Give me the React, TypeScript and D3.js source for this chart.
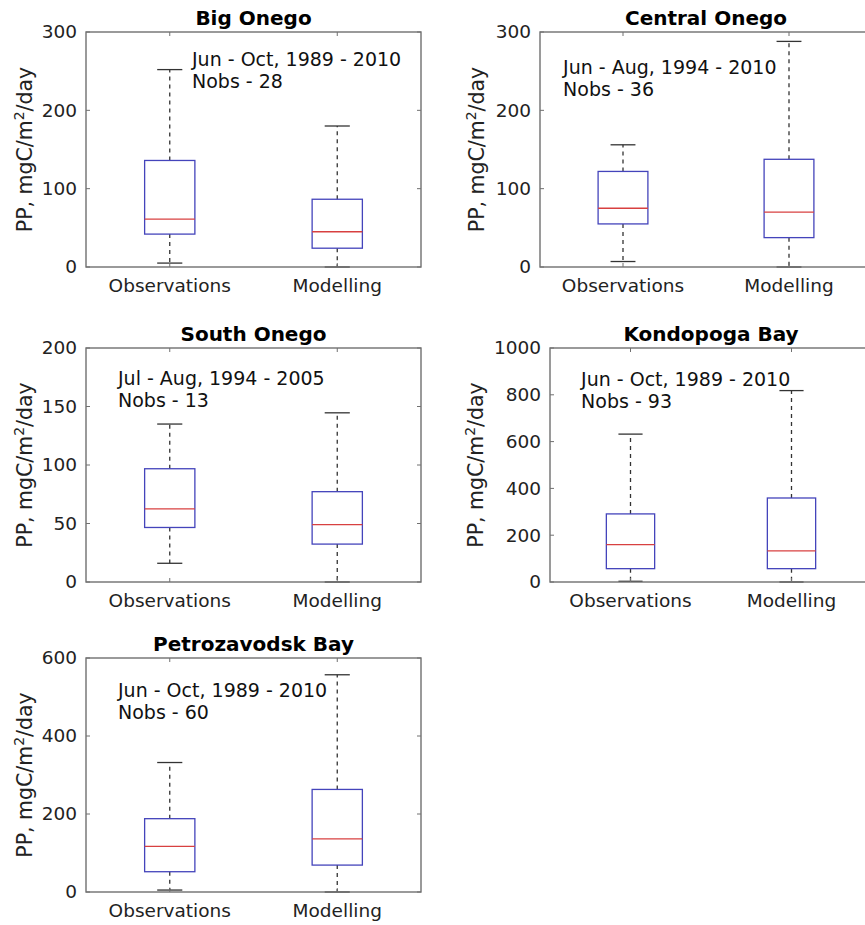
import React from "react";
import * as d3 from "d3";

// ---------- data ----------
const titles = ["Big Onego", "Central Onego", "South Onego", "Kondopoga Bay", "Petrozavodsk Bay"];
const categories = ["Observations", "Modelling"];
const yMaxes = [300, 300, 200, 1000, 600];
const yTicks = [
  [0, 100, 200, 300],
  [0, 100, 200, 300],
  [0, 50, 100, 150, 200],
  [0, 200, 400, 600, 800, 1000],
  [0, 200, 400, 600],
];
// [lower whisker, Q1, median, Q3, upper whisker]
const observations = [
  [5, 42, 61, 136, 252],
  [7, 55, 75, 122, 156],
  [16, 46.6, 62.5, 96.8, 135],
  [3, 57, 160, 291, 632],
  [5, 52, 117, 188, 332],
];
const modelling = [
  [0, 24, 45, 86.5, 180],
  [0, 37.5, 70, 137.5, 288],
  [0, 32.4, 49, 77.2, 144.6],
  [0, 57, 133, 359, 818],
  [0, 69, 136, 263, 557],
];
const periodLabels = [
  "Jun - Oct, 1989 - 2010",
  "Jun - Aug, 1994 - 2010",
  "Jul - Aug, 1994 - 2005",
  "Jun - Oct, 1989 - 2010",
  "Jun - Oct, 1989 - 2010",
];
const nobs = [28, 36, 13, 93, 60];
// annotation anchor in data units [x, y]
const noteX = [1.133, 0.639, 0.691, 0.693, 0.691];
const noteY = [256, 246, 168, 839, 501];

// ---------- layout ----------
const layout = [
  { l: 86, r: 421, t: 32, b: 267, yl: 25 },
  { l: 540, r: 872, t: 32, b: 267, yl: 477 },
  { l: 86, r: 421, t: 348, b: 582, yl: 25 },
  { l: 550, r: 872, t: 348, b: 582, yl: 476 },
  { l: 86, r: 421, t: 658, b: 892, yl: 25 },
];

const FONT = "DejaVu Sans, Verdana, sans-serif";
const AXIS = "#707070";
const TXT = "#222";
const BOXC = "#4444bb";
const MEDC = "#d84040";
const WHIS = "#333";

function Panel({ i }: { i: number }) {
  const L = layout[i];
  const x = d3.scaleLinear().domain([0.5, 2.5]).range([L.l, L.r]);
  const y = d3.scaleLinear().domain([0, yMaxes[i]]).range([L.b, L.t]);
  const series = [observations[i], modelling[i]];
  const bw = 0.3;
  const cw = 0.15;
  const tk = 4;
  const midY = (L.t + L.b) / 2;
  return (
    <g>
      {series.map((s, k) => {
        const c = k + 1;
        const [lo, q1, med, q3, hi] = s;
        return (
          <g key={k}>
            <line x1={x(c)} x2={x(c)} y1={y(q3)} y2={y(hi)} stroke={WHIS} strokeWidth={1.3} strokeDasharray="4,4" />
            <line x1={x(c)} x2={x(c)} y1={y(q1)} y2={y(lo)} stroke={WHIS} strokeWidth={1.3} strokeDasharray="4,4" />
            <line x1={x(c - cw / 2)} x2={x(c + cw / 2)} y1={y(hi)} y2={y(hi)} stroke={WHIS} strokeWidth={1.3} />
            <line x1={x(c - cw / 2)} x2={x(c + cw / 2)} y1={y(lo)} y2={y(lo)} stroke={WHIS} strokeWidth={1.3} />
            <rect x={x(c - bw / 2)} y={y(q3)} width={x(c + bw / 2) - x(c - bw / 2)} height={y(q1) - y(q3)} fill="none" stroke={BOXC} strokeWidth={1.3} />
            <line x1={x(c - bw / 2)} x2={x(c + bw / 2)} y1={y(med)} y2={y(med)} stroke={MEDC} strokeWidth={1.3} />
          </g>
        );
      })}
      <text x={x(noteX[i])} y={y(noteY[i])} fontFamily={FONT} fontSize={19} fill="#111">
        {periodLabels[i]}
      </text>
      <text x={x(noteX[i])} y={y(noteY[i]) + 22} fontFamily={FONT} fontSize={19} fill="#111">
        {"Nobs - " + nobs[i]}
      </text>
      <rect x={L.l} y={L.t} width={L.r - L.l} height={L.b - L.t} fill="none" stroke={AXIS} strokeWidth={1.4} />
      {yTicks[i].map((v) => (
        <g key={v}>
          <line x1={L.l} x2={L.l + tk} y1={y(v)} y2={y(v)} stroke={AXIS} strokeWidth={1} />
          <line x1={L.r} x2={L.r - tk} y1={y(v)} y2={y(v)} stroke={AXIS} strokeWidth={1} />
          <text x={L.l - 9} y={y(v)} dy="0.35em" textAnchor="end" fontFamily={FONT} fontSize={18.5} fill={TXT}>
            {v}
          </text>
        </g>
      ))}
      {categories.map((c, k) => (
        <g key={c}>
          <line x1={x(k + 1)} x2={x(k + 1)} y1={L.b} y2={L.b - tk} stroke={AXIS} strokeWidth={1} />
          <line x1={x(k + 1)} x2={x(k + 1)} y1={L.t} y2={L.t + tk} stroke={AXIS} strokeWidth={1} />
          <text x={x(k + 1)} y={L.b + 25} textAnchor="middle" fontFamily={FONT} fontSize={18.5} fill={TXT}>
            {c}
          </text>
        </g>
      ))}
      <text x={(L.l + L.r) / 2} y={L.t - 7} textAnchor="middle" fontFamily={FONT} fontWeight="bold" fontSize={20} fill="#000">
        {titles[i]}
      </text>
      <text
        transform={`translate(${L.yl},${midY}) rotate(-90)`}
        textAnchor="middle"
        dy="0.35em"
        fontFamily={FONT}
        fontSize={20.5}
        fill={TXT}
      >
        PP, mgC/m
        <tspan dy={-8} fontSize={14}>2</tspan>
        <tspan dy={8}>/day</tspan>
      </text>
    </g>
  );
}

export default function App() {
  return (
    <svg width={865} height={925} style={{ position: "absolute", left: 0, top: 0, background: "#fff" }}>
      <rect width={865} height={925} fill="#fff" />
      {titles.map((_, i) => (
        <Panel key={i} i={i} />
      ))}
    </svg>
  );
}
